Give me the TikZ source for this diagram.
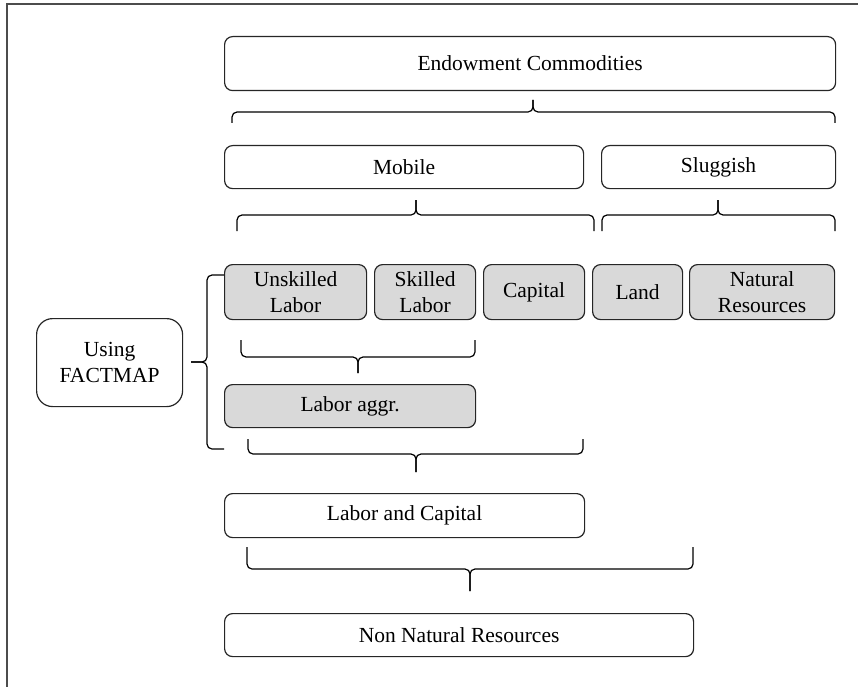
\documentclass[tikz,border=0pt]{standalone}
\usepackage{fontspec}
\setmainfont{Liberation Serif}
\begin{document}
\begin{tikzpicture}[x=1pt,y=-1pt,
  box/.style={draw=black!85, line width=1.2pt, rounded corners=8pt, fill=white,
    align=center, inner sep=2pt, anchor=north west,
    font=\fontsize{21.5}{26}\selectfont},
  gbox/.style={box, fill=gray!30},
  brace/.style={draw=black, line width=1.2pt, rounded corners=5pt},
  frame/.style={draw=black!70, line width=1.6pt}]
\useasboundingbox (0,0) rectangle (858,687);
\draw[frame] (858,4) -- (7,4) -- (7,687);

% boxes
\node[box, minimum width=611pt, minimum height=54pt] (endow) at (224,36) {Endowment Commodities};
\node[box, minimum width=359pt, minimum height=43pt] (mobile) at (224,145) {Mobile};
\node[box, minimum width=234pt, minimum height=43pt] (slug) at (601,145) {Sluggish};
\node[gbox, minimum width=142pt, minimum height=55pt] (unsk) at (224,264) {Unskilled\\Labor};
\node[gbox, minimum width=101pt, minimum height=55pt] (skill) at (374,264) {Skilled\\Labor};
\node[gbox, minimum width=101pt, minimum height=55pt] (cap) at (483,264) {Capital};
\node[gbox, minimum width=90pt, minimum height=55pt] (land) at (592,264) {Land};
\node[gbox, minimum width=145pt, minimum height=55pt] (natres) at (689,264) {Natural\\Resources};
\node[gbox, minimum width=251pt, minimum height=43pt] (laggr) at (224,384) {Labor aggr.};
\node[box, rounded corners=16pt, minimum width=146pt, minimum height=88pt] (using) at (36,318) {Using\\FACTMAP};
\node[box, minimum width=360pt, minimum height=44pt] (lcap) at (224,493) {Labor and Capital};
\node[box, minimum width=469pt, minimum height=43pt] (nonnat) at (224,613) {Non Natural Resources};

% brace coordinates
\coordinate (b1l) at (232,123); \coordinate (b1r) at (835,123); \coordinate (b1t) at (533,100);
\coordinate (b2l) at (237,231); \coordinate (b2r) at (594,231); \coordinate (b2t) at (416,200);
\coordinate (b3l) at (602,231); \coordinate (b3r) at (835,231); \coordinate (b3t) at (718,200);
\coordinate (b4l) at (241,340); \coordinate (b4r) at (475,340); \coordinate (b4t) at (358,373);
\coordinate (b5l) at (248,439); \coordinate (b5r) at (583,439); \coordinate (b5t) at (416,472);
\coordinate (b6l) at (247,547); \coordinate (b6r) at (693,547); \coordinate (b6t) at (470,591);
\coordinate (b7u) at (224,275); \coordinate (b7d) at (224,449); \coordinate (b7t) at (191,362);

% horizontal braces: ends, line level, tip
\draw[brace] (b1l) -- (b1l |- 0,112) -- (b1t |- 0,112) -- (b1t);
\draw[brace] (b1r) -- (b1r |- 0,112) -- (b1t |- 0,112) -- (b1t);
\draw[brace] (b2l) -- (b2l |- 0,215) -- (b2t |- 0,215) -- (b2t);
\draw[brace] (b2r) -- (b2r |- 0,215) -- (b2t |- 0,215) -- (b2t);
\draw[brace] (b3l) -- (b3l |- 0,215) -- (b3t |- 0,215) -- (b3t);
\draw[brace] (b3r) -- (b3r |- 0,215) -- (b3t |- 0,215) -- (b3t);
\draw[brace] (b4l) -- (b4l |- 0,357) -- (b4t |- 0,357) -- (b4t);
\draw[brace] (b4r) -- (b4r |- 0,357) -- (b4t |- 0,357) -- (b4t);
\draw[brace] (b5l) -- (b5l |- 0,454) -- (b5t |- 0,454) -- (b5t);
\draw[brace] (b5r) -- (b5r |- 0,454) -- (b5t |- 0,454) -- (b5t);
\draw[brace] (b6l) -- (b6l |- 0,569) -- (b6t |- 0,569) -- (b6t);
\draw[brace] (b6r) -- (b6r |- 0,569) -- (b6t |- 0,569) -- (b6t);
% vertical brace
\draw[brace] (b7u) -- (207,275) -- (207,362) -- (b7t);
\draw[brace] (b7d) -- (207,449) -- (207,362) -- (b7t);
\end{tikzpicture}
\end{document}
